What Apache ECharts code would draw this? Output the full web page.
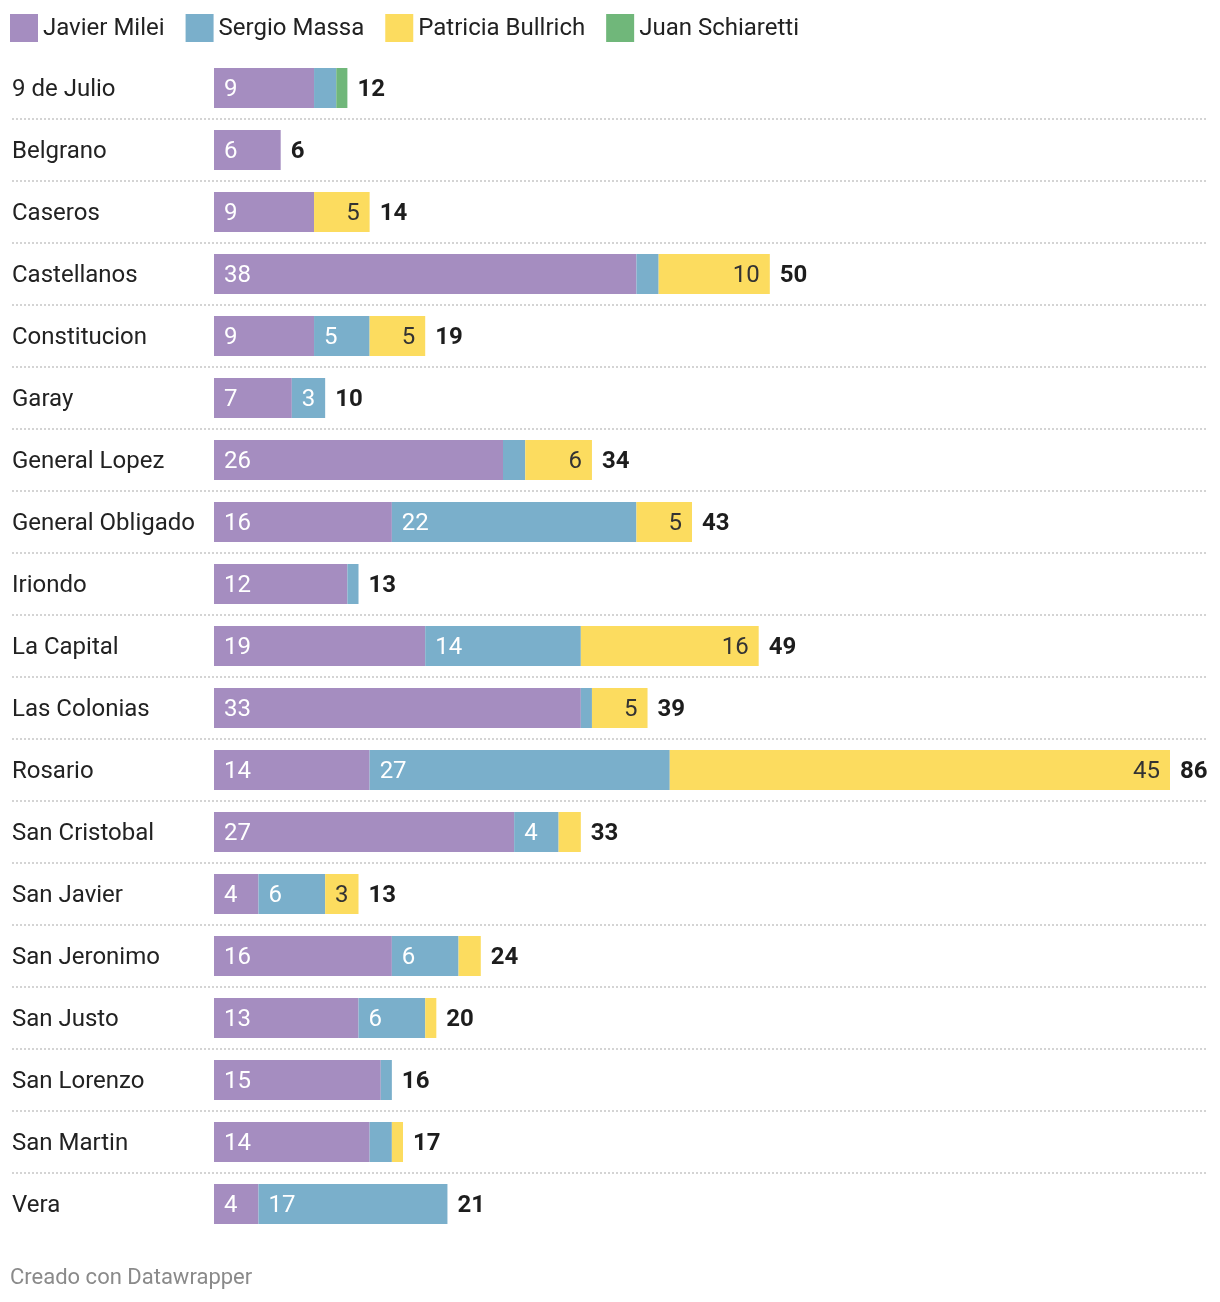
<!DOCTYPE html>
<html>
<head>
<meta charset="utf-8">
<script src="https://cdn.jsdelivr.net/npm/echarts@6/dist/echarts.min.js"></script>
<style>
html,body{margin:0;padding:0;background:#fff;}
#chart{width:1220px;height:1302px;}
</style>
</head>
<body>
<div id="chart"></div>
<script>
const categories = ["9 de Julio","Belgrano","Caseros","Castellanos","Constitucion","Garay","General Lopez","General Obligado","Iriondo","La Capital","Las Colonias","Rosario","San Cristobal","San Javier","San Jeronimo","San Justo","San Lorenzo","San Martin","Vera"];
const seriesNames = ["Javier Milei","Sergio Massa","Patricia Bullrich","Juan Schiaretti"];
const milei      = [9,6,9,38,9,7,26,16,12,19,33,14,27,4,16,13,15,14,4];
const massa      = [2,0,0,2,5,3,2,22,1,14,1,27,4,6,6,6,1,2,17];
const bullrich   = [0,0,5,10,5,0,6,5,0,16,5,45,2,3,2,1,0,1,0];
const schiaretti = [1,0,0,0,0,0,0,0,0,0,0,0,0,0,0,0,0,0,0];
const totals     = [12,6,14,50,19,10,34,43,13,49,39,86,33,13,24,20,16,17,21];
const colors = ["#a58dc0","#7aafcb","#fcdc5f","#70b77a"];

const FONT = "Roboto";
const FS = 24;
const chart = echarts.init(document.getElementById('chart'), null, {renderer:'canvas'});

function segLabel(pos, color){
  return {
    show:true, position:pos, distance:10, offset:[0,2], color:color, fontSize:FS, fontFamily:FONT,
    formatter: p => (p.value >= 3 ? String(p.value) : '')
  };
}

const dataSets = [milei, massa, bullrich, schiaretti];
const positions = ['insideLeft','insideLeft','insideRight','insideLeft'];
const labelColors = ['#ffffff','#ffffff','#333333','#ffffff'];

const series = dataSets.map((d,i)=>({
  name: seriesNames[i], type:'bar', stack:'s', barWidth:40,
  xAxisIndex:0, yAxisIndex:0,
  itemStyle:{color:colors[i]},
  label: segLabel(positions[i], labelColors[i]),
  emphasis:{disabled:true},
  data: d
}));

series.push({
  name:'total', type:'bar', stack:'s', barWidth:40,
  xAxisIndex:0, yAxisIndex:0,
  itemStyle:{color:'transparent'},
  label:{show:true, position:'right', distance:10, offset:[0,2], color:'#1d1d1d', fontWeight:'bold', fontSize:FS, fontFamily:FONT,
    formatter: p => String(totals[p.dataIndex])},
  emphasis:{disabled:true},
  data: categories.map(()=>0)
});

series.push({
  name:'sep', type:'scatter', xAxisIndex:1, yAxisIndex:1, data:[], silent:true
});

chart.setOption({
  animation:false,
  textStyle:{fontFamily:FONT},
  legend:{
    data: seriesNames, left:10, top:14, padding:0, icon:'rect', itemWidth:28, itemHeight:28, itemGap:21,
    formatter: n => '{t|' + n + '}',
    textStyle:{fontSize:FS, color:'#222', fontFamily:FONT,
      rich:{t:{fontSize:FS, color:'#222', fontFamily:FONT, padding:[2,0,0,0]}}},
    selectedMode:false
  },
  title:{
    text:'Creado con Datawrapper', left:5, top:1262,
    textStyle:{fontSize:22, fontWeight:'normal', color:'#8a8a8a', fontFamily:FONT}
  },
  grid:[
    {left:214, right:50, top:57, height:1178},
    {left:12, right:12, top:119, height:1054}
  ],
  xAxis:[
    {type:'value', gridIndex:0, min:0, max:86, show:false},
    {type:'value', gridIndex:1, min:0, max:1, show:false}
  ],
  yAxis:[
    {type:'category', gridIndex:0, data:categories, inverse:true,
     axisLine:{show:false}, axisTick:{show:false}, splitLine:{show:false},
     axisLabel:{align:'left', margin:202, fontSize:FS, color:'#222', fontFamily:FONT,
       formatter: v => '{c|' + v + '}',
       rich:{c:{fontSize:FS, color:'#222', fontFamily:FONT, padding:[4,0,0,0]}}}},
    {type:'value', gridIndex:1, min:0, max:17, interval:1, inverse:true,
     axisLine:{show:false}, axisTick:{show:false}, axisLabel:{show:false},
     splitLine:{show:true, lineStyle:{color:'#d4d4d4', width:2, type:[2,2]}}}
  ],
  series: series
});
</script>
</body>
</html>
